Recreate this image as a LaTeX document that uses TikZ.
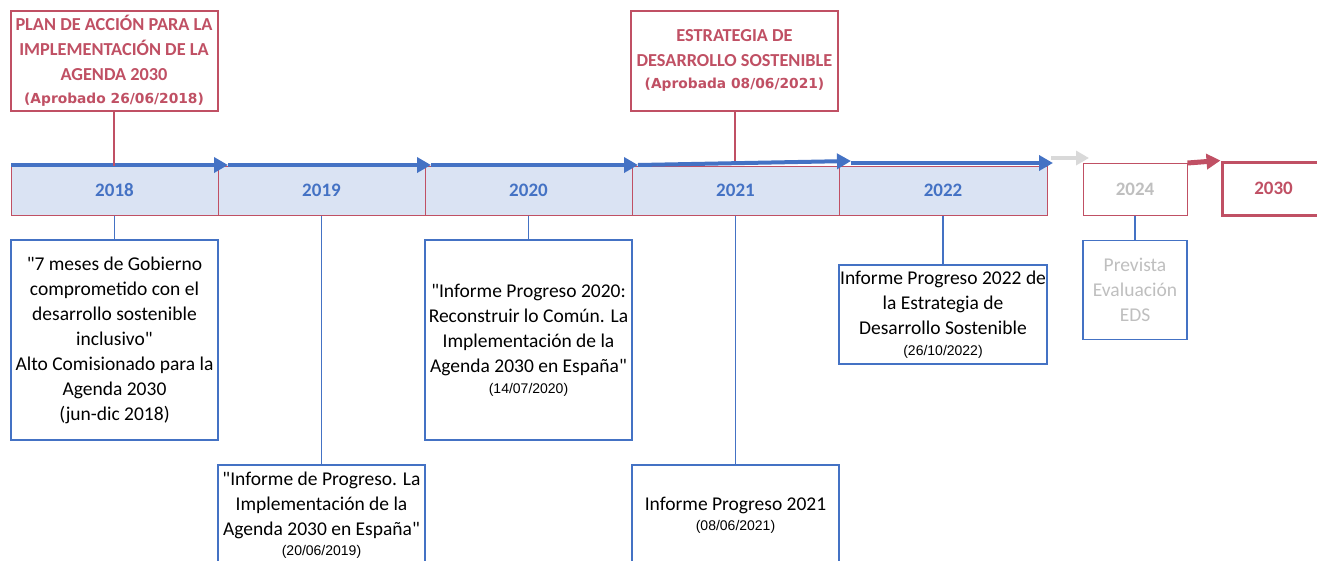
\documentclass[tikz,border=0pt]{standalone}
\usepackage{fontspec}
\setmainfont{Carlito}[Ligatures=TeXOff]
\newfontfamily\datefont{Liberation Sans}
\newfontfamily\dvfont{DejaVu Sans}
\usetikzlibrary{arrows.meta}
\definecolor{myblue}{RGB}{68,114,196}
\definecolor{barfill}{RGB}{218,227,243}
\definecolor{barred}{RGB}{192,80,100}
\definecolor{topred}{RGB}{192,80,100}
\definecolor{greytxt}{RGB}{191,191,191}
\definecolor{greyarrow}{RGB}{217,217,217}
\newcommand{\dte}[1]{{\datefont\fontsize{14}{16}\selectfont #1}}
\newcommand{\apr}[1]{{\dvfont\bfseries\fontsize{13.8}{15}\selectfont #1}}
\newcommand{\q}{\symbol{34}}
\begin{document}
\begin{tikzpicture}[x=1pt,y=-1pt,
  yearbox/.style={draw=barred, line width=1pt, fill=barfill, minimum width=207pt, minimum height=49pt, inner sep=0pt, font=\bfseries\fontsize{19}{22}\selectfont, text=myblue},
  evbox/.style={draw=myblue, line width=1.2pt, fill=white, minimum width=207pt, align=center, inner sep=0pt, font=\fontsize{19.5}{25}\selectfont, text=black},
  topbox/.style={draw=topred, line width=2pt, fill=white, minimum width=207pt, minimum height=100pt, align=center, inner sep=0pt, font=\bfseries\fontsize{18.3}{25}\selectfont, text=topred},
  barrow/.style={draw=myblue, line width=4pt, -{Triangle[length=14pt,width=15pt]}},
  redline/.style={draw=barred, line width=2pt},
  blueline/.style={draw=myblue, line width=1.2pt}]
\useasboundingbox (0,0) rectangle (1317,560);
\clip (0,0) rectangle (1317,560);

% year bar
\node[yearbox] (y18) at (114.5,190.5) {2018};
\node[yearbox] (y19) at (321.5,190.5) {2019};
\node[yearbox] (y20) at (528.5,190.5) {2020};
\node[yearbox] (y21) at (735.5,190.5) {2021};
\node[yearbox, minimum width=208pt] (y22) at (943,190.5) {2022};
\node[yearbox, fill=white, minimum width=104pt, minimum height=52pt, text=greytxt] (y24) at (1135,189) {2024};
\node[yearbox, fill=white, draw=barred, line width=3pt, minimum width=103pt, minimum height=53pt, text=barred] (y30) at (1273.5,188.5) {2030};

% arrows on top of bar
\coordinate (p0) at (11,165);
\coordinate (p1) at (228,165);
\coordinate (p2) at (431,165);
\coordinate (p3) at (638,165);
\coordinate (p4) at (851,161);
\coordinate (p4b) at (851,163);
\coordinate (p5) at (1053,163);
\draw[barrow] (p0) -- (p1);
\draw[barrow] (p1) -- (p2);
\draw[barrow] (p2) -- (p3);
\draw[barrow] (p3) -- (p4);
\draw[barrow] (p4b) -- (p5);
\coordinate (g0) at (1051,158);
\coordinate (g1) at (1089,158);
\draw[draw=greyarrow, line width=4pt, -{Triangle[length=13pt,width=14pt]}] (g0) -- (g1);
\draw[draw=barred, line width=5pt, -{Triangle[length=14pt,width=15pt]}] ([yshift=-0.5pt]y24.north east) -- ([yshift=0pt]y30.north west);

% top boxes
\node[topbox] (t1) at (114,60.5) {PLAN DE ACCIÓN PARA LA\\IMPLEMENTACIÓN DE LA\\AGENDA 2030\\[-2pt]\apr{(Aprobado 26/06/2018)}};
\node[topbox] (t2) at (734.5,60.5) {ESTRATEGIA DE\\DESARROLLO SOSTENIBLE\\[-3pt]\apr{(Aprobada 08/06/2021)}};
\draw[redline] (t1.south) -- (t1.south |- y18.north);
\draw[redline] (t2.south) -- (t2.south |- p4);

% event boxes
\node[evbox, minimum height=200pt] (b1) at (114.5,340) {\q7 meses de Gobierno\\comprometido con el\\desarrollo sostenible\\inclusivo\q\\Alto Comisionado para la\\Agenda 2030\\(jun-dic 2018)};
\node[evbox, minimum height=100pt] (b2) at (321.5,515) {\q Informe de Progreso. La\\Implementación de la\\Agenda 2030 en España\q\\[-5pt]\dte{(20/06/2019)}};
\node[evbox, minimum height=200pt] (b3) at (528.5,340) {\q Informe Progreso 2020:\\Reconstruir lo Común. La\\Implementación de la\\Agenda 2030 en España\q\\[-4pt]\dte{(14/07/2020)}};
\node[evbox, minimum height=100pt] (b4) at (735.5,515) {Informe Progreso 2021\\[-5pt]\dte{(08/06/2021)}};
\node[evbox, minimum width=208pt, minimum height=99pt] (b5) at (943,314.5) {Informe Progreso 2022 de\\la Estrategia de\\Desarrollo Sostenible\\[-4pt]\dte{(26/10/2022)}};
\node[evbox, minimum width=104pt, minimum height=99pt, text=greytxt] (b6) at (1135,290) {Prevista\\Evaluación\\EDS};

\draw[blueline] (y18.south) -- (b1.north);
\draw[blueline] (y19.south) -- (b2.north);
\draw[blueline] (y20.south) -- (b3.north);
\draw[blueline] (y21.south) -- (b4.north);
\draw[blueline] (y22.south) -- (b5.north);
\draw[blueline] (y24.south) -- (b6.north);
\end{tikzpicture}
\end{document}
